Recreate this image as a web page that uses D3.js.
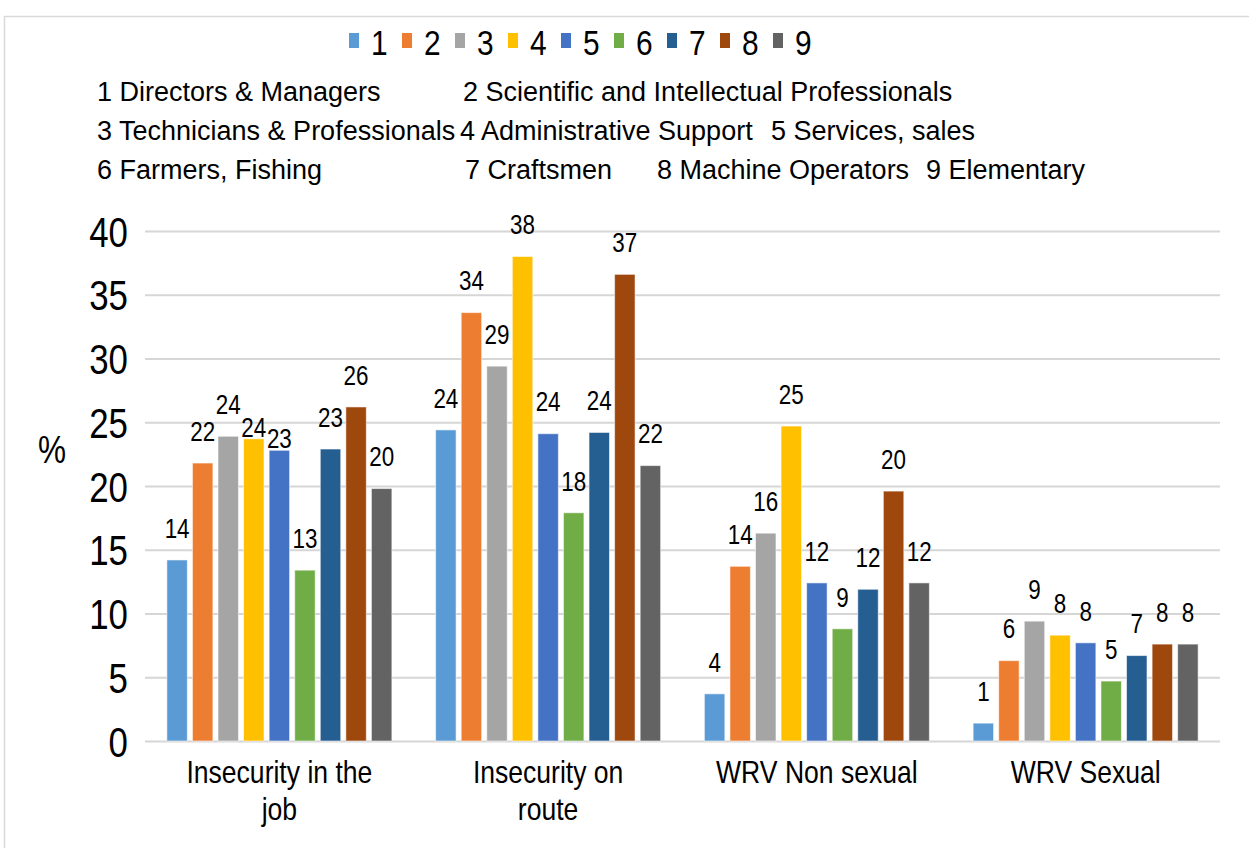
<!DOCTYPE html>
<html><head><meta charset="utf-8">
<script src="https://cdn.jsdelivr.net/npm/d3@7"></script>
<style>html,body{margin:0;padding:0;background:#fff;overflow:hidden}</style>
</head><body>
<svg id="chart" width="1249" height="848"></svg>
<script>
// ---------- data ----------
const categories = ["Insecurity in the\njob", "Insecurity on\nroute", "WRV Non sexual", "WRV Sexual"];
const seriesKeys = ["1", "2", "3", "4", "5", "6", "7", "8", "9"];
const seriesNames = ["Directors & Managers", "Scientific and Intellectual Professionals",
  "Technicians & Professionals", "Administrative Support", "Services, sales",
  "Farmers, Fishing", "Craftsmen", "Machine Operators", "Elementary"];
const insecurityJob   = [14.2, 21.8, 23.9, 23.7, 22.8, 13.4, 22.9, 26.2, 19.8];
const insecurityRoute = [24.4, 33.6, 29.4, 38.0, 24.1, 17.9, 24.2, 36.6, 21.6];
const wrvNonSexual    = [3.7, 13.7, 16.3, 24.7, 12.4, 8.8, 11.9, 19.6, 12.4];
const wrvSexual       = [1.4, 6.3, 9.4, 8.3, 7.7, 4.7, 6.7, 7.6, 7.6];
const yTicks = [0, 5, 10, 15, 20, 25, 30, 35, 40];
const seriesColors = ["#5B9BD5", "#ED7D31", "#A5A5A5", "#FFC000", "#4472C4", "#70AD47", "#255E91", "#9E480E", "#636363"];

const groupValues = [insecurityJob, insecurityRoute, wrvNonSexual, wrvSexual];

// ---------- layout ----------
const FONT = "'Liberation Sans',Arial,sans-serif";
const SX = 0.83; // horizontal condensing of chart text (narrow face)
const plot = {left: 145, right: 1220, top: 231, bottom: 741};

const svg = d3.select("#chart");

// helper: condensed text anchored at (x, y)
function narrow(sel, x, yy) {
  return sel.attr("x", 0).attr("y", 0).attr("transform", `translate(${x},${yy}) scale(${SX},1)`);
}

// frame
svg.append("rect").attr("x", 4.5).attr("y", 16.5).attr("width", 1300).attr("height", 900)
  .attr("fill", "none").attr("stroke", "#d9d9d9").attr("stroke-width", 1.5);

const x0 = d3.scaleBand().domain(categories).range([plot.left, plot.right])
  .paddingInner(0.1628).paddingOuter(0.0814);
const x1 = d3.scaleBand().domain(seriesKeys).range([0, x0.bandwidth()]).paddingInner(0.2);
const y = d3.scaleLinear().domain([0, 40]).range([plot.bottom, plot.top]);
const color = d3.scaleOrdinal().domain(seriesKeys).range(seriesColors);

// y axis + gridlines
const yAxis = svg.append("g").attr("transform", `translate(${plot.left},0)`)
  .call(d3.axisLeft(y).tickValues(yTicks).tickSize(-(plot.right - plot.left)).tickPadding(17).tickFormat(d3.format("d")));
yAxis.select(".domain").remove();
yAxis.selectAll(".tick line").attr("stroke", "#d6d6d6").attr("stroke-width", 2);
yAxis.selectAll(".tick text").attr("font-family", FONT).attr("font-size", 42).attr("fill", "#000")
  .attr("dy", "0.36em").attr("x", -17 / SX).attr("transform", `scale(${SX},1)`);

narrow(svg.append("text"), 52, 449).attr("dy", "0.36em").attr("text-anchor", "middle")
  .attr("font-family", FONT).attr("font-size", 38).text("%");

// bars
const groups = svg.append("g").selectAll("g").data(categories).join("g")
  .attr("transform", d => `translate(${x0(d)},0)`);

groups.selectAll("rect").data((c, gi) => seriesKeys.map((k, i) => ({k, v: groupValues[gi][i]})))
  .join("rect")
  .attr("x", d => x1(d.k)).attr("width", x1.bandwidth())
  .attr("y", d => y(d.v)).attr("height", d => y(0) - y(d.v))
  .attr("fill", d => color(d.k))
  .attr("stroke", "rgba(255,255,255,0.55)").attr("stroke-width", 1);

// data labels with simple collision handling (lower a label that would touch its neighbour)
const fmt = d3.format(".0f");
groups.each(function (c, gi) {
  const g = d3.select(this);
  let prev = null;
  seriesKeys.forEach((k, i) => {
    const v = groupValues[gi][i];
    const cx = x1(k) + x1.bandwidth() / 2;
    const t = g.append("text").attr("text-anchor", "middle")
      .attr("font-family", FONT).attr("font-size", 27).attr("fill", "#000").text(fmt(v));
    const w = t.node().getComputedTextLength() * SX;
    let center = y(v) - 32;
    if (prev) {
      const hOverlap = Math.abs(cx - prev.cx) < (w + prev.w) / 2 + 6;
      const vOverlap = Math.abs(center - prev.center) < 22;
      if (hOverlap && vOverlap) center = y(v) - 12;
    }
    narrow(t, cx, center).attr("dy", "0.36em");
    prev = {cx, w, center};
  });
});

// category labels
groups.append("text").attr("text-anchor", "middle")
  .attr("font-family", FONT).attr("font-size", 32).attr("fill", "#000")
  .attr("transform", `translate(${x0.bandwidth() / 2},0) scale(${SX},1)`)
  .each(function (d) {
    d.split("\n").forEach((line, i) => {
      d3.select(this).append("tspan").attr("x", 0).attr("y", 783 + i * 37).text(line);
    });
  });

// top legend (series keys)
const legend = svg.append("g");
seriesKeys.forEach((k, i) => {
  const lx = 349 + i * 53;
  legend.append("rect").attr("x", lx).attr("y", 33).attr("width", 10).attr("height", 15).attr("fill", color(k));
  narrow(legend.append("text"), lx + 22, 42).attr("dy", "0.36em")
    .attr("font-family", FONT).attr("font-size", 36).attr("fill", "#000").text(k);
});

// description text block
const descRows = [[0, 1], [2, 3, 4], [5, 6, 7, 8]];
const descX = [[97, 463], [97, 460, 771], [97, 465, 657, 926]];
descRows.forEach((row, r) => {
  row.forEach((si, j) => {
    svg.append("text").attr("x", descX[r][j]).attr("y", 101 + r * 39)
      .attr("font-family", FONT).attr("font-size", 27).attr("fill", "#000")
      .text(`${seriesKeys[si]} ${seriesNames[si]}`);
  });
});
</script>
</body></html>
